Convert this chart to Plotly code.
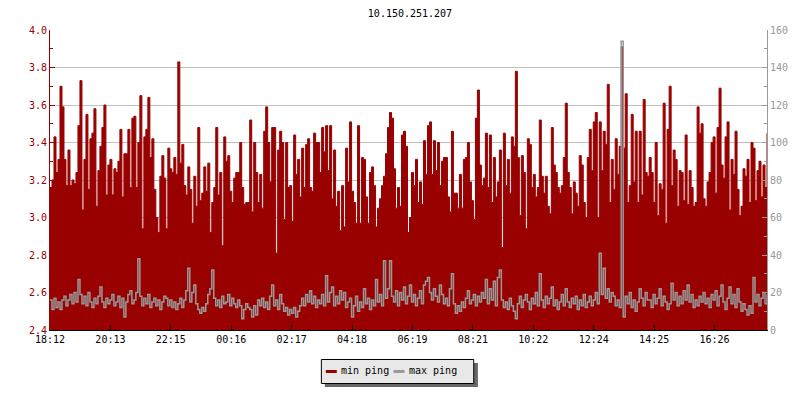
import plotly.graph_objects as go

TITLE = "10.150.251.207"
TICK_LABELS = ["18:12", "20:13", "22:15", "00:16", "02:17", "04:18",
               "06:19", "08:21", "10:22", "12:24", "14:25", "16:26"]
STEP_MIN = 4  # minutes between samples

min_ping = [
    3.16, 3.20, 3.43, 3.24, 3.31, 3.70, 3.59, 3.31, 3.17, 3.36,
    3.17, 3.20, 3.18, 3.24, 3.49, 3.73, 3.04, 3.31, 3.55, 3.15,
    3.42, 3.45, 3.58, 3.06, 3.25, 3.38, 3.48, 3.60, 3.12, 3.28,
    3.31, 3.12, 3.26, 3.24, 3.30, 3.47, 3.11, 3.34, 3.34, 3.47,
    3.16, 3.53, 3.54, 3.16, 3.40, 3.65, 2.94, 3.43, 3.47, 3.64,
    3.32, 3.42, 3.15, 3.00, 2.92, 3.22, 3.33, 3.21, 2.94, 3.37,
    3.26, 3.24, 3.32, 3.23, 3.83, 3.29, 3.39, 3.17, 3.12, 3.27,
    3.15, 2.97, 3.22, 3.06, 3.48, 3.09, 3.13, 3.27, 3.14, 3.29,
    2.92, 3.08, 3.16, 3.48, 3.12, 3.24, 2.85, 3.43, 3.30, 3.33,
    3.14, 3.08, 3.21, 3.24, 3.24, 3.40, 3.16, 3.07, 3.08, 3.08,
    3.52, 3.03, 3.40, 3.24, 3.08, 3.23, 3.05, 3.46, 3.59, 3.40,
    3.19, 3.48, 3.48, 2.81, 3.36, 3.46, 3.40, 2.99, 3.40, 3.16,
    3.17, 2.98, 3.44, 3.23, 3.31, 3.11, 3.37, 3.16, 3.39, 3.42,
    3.16, 3.14, 3.45, 3.40, 3.40, 3.24, 3.48, 3.35, 3.49, 3.25,
    3.49, 3.10, 3.36, 3.06, 3.14, 2.93, 3.17, 2.95, 3.37, 3.19,
    3.51, 3.14, 3.08, 2.97, 3.49, 2.97, 3.32, 3.31, 3.11, 2.97,
    3.24, 3.27, 3.17, 2.95, 3.05, 3.10, 3.17, 3.22, 3.34, 3.48,
    3.56, 3.53, 3.26, 3.05, 3.16, 3.06, 3.44, 3.46, 3.38, 2.92,
    3.00, 3.24, 3.17, 3.31, 3.08, 3.19, 3.07, 3.41, 3.23, 3.49,
    3.51, 3.23, 3.41, 3.25, 3.40, 3.17, 3.30, 3.32, 3.32, 3.11,
    3.03, 3.46, 3.13, 3.13, 3.05, 3.23, 3.05, 3.31, 3.32, 3.40,
    3.19, 3.09, 2.99, 3.53, 3.68, 3.28, 3.17, 3.21, 3.45, 3.16,
    3.44, 3.08, 3.32, 3.11, 3.19, 3.36, 2.84, 3.45, 3.17, 3.31,
    3.13, 3.43, 3.38, 3.78, 3.32, 3.01, 3.33, 3.24, 2.94, 3.42,
    3.39, 3.16, 3.23, 3.11, 3.16, 3.52, 3.22, 3.13, 3.22, 3.06,
    3.02, 3.48, 3.28, 3.24, 3.16, 3.13, 3.17, 3.32, 3.61, 3.24,
    3.16, 3.02, 3.19, 3.13, 3.06, 3.33, 3.28, 3.08, 3.00, 3.32,
    3.47, 3.25, 3.51, 3.56, 3.00, 3.51, 3.25, 3.46, 3.39, 3.71,
    3.08, 3.31, 3.15, 3.42, 3.23, 3.38, 3.91, 3.37, 3.66, 3.08,
    3.17, 3.55, 3.19, 3.46, 3.08, 3.46, 3.12, 3.63, 3.24, 3.22,
    3.32, 3.24, 3.08, 3.40, 3.01, 3.18, 3.15, 3.61, 2.97, 3.47,
    3.70, 3.17, 3.36, 3.31, 3.06, 3.25, 3.24, 3.09, 3.44, 3.07,
    3.25, 3.16, 3.06, 3.08, 3.59, 3.45, 3.50, 3.10, 3.06, 3.19,
    3.24, 3.40, 3.43, 3.13, 3.48, 3.69, 3.28, 3.21, 3.43, 3.51,
    3.04, 3.31, 3.23, 3.46, 3.15, 3.01, 3.06, 3.26, 3.22, 3.31,
    3.08, 3.40, 3.37, 3.09, 3.25, 3.30, 3.11, 3.28, 3.16, 3.45,
]

max_ping = [
    16, 11, 17, 12, 15, 11, 16, 18, 13, 16,
    19, 14, 20, 15, 27, 19, 14, 18, 13, 20,
    15, 12, 17, 14, 18, 23, 15, 12, 17, 14,
    16, 19, 13, 15, 18, 12, 17, 7, 15, 19,
    21, 14, 16, 20, 38, 18, 13, 17, 14, 19,
    12, 15, 17, 13, 16, 11, 15, 18, 17, 13,
    16, 12, 15, 11, 14, 17, 12, 16, 21, 33,
    15, 20, 24, 14, 11, 9, 12, 10, 14, 19,
    22, 32, 17, 13, 16, 12, 18, 14, 15, 19,
    13, 17, 14, 12, 16, 13, 6, 11, 14, 12,
    11, 7, 13, 8, 16, 13, 17, 12, 15, 11,
    18, 24, 13, 16, 11, 19, 14, 10, 12, 8,
    11, 9, 12, 7, 10, 13, 17, 13, 19, 15,
    21, 14, 18, 12, 16, 14, 19, 13, 29, 15,
    20, 23, 13, 18, 14, 21, 16, 20, 12, 15,
    17, 7, 13, 18, 10, 15, 12, 22, 14, 17,
    11, 16, 13, 27, 15, 19, 13, 37, 17, 22,
    37, 18, 15, 21, 13, 20, 16, 23, 14, 18,
    24, 15, 19, 13, 17, 21, 14, 24, 26, 28,
    20, 16, 22, 18, 15, 24, 19, 14, 17, 13,
    22, 30, 14, 9, 13, 10, 15, 12, 17, 21,
    14, 16, 19, 13, 18, 15, 20, 17, 27, 14,
    22, 16, 26, 13, 28, 32, 16, 12, 15, 11,
    17, 13, 10, 6, 14, 18, 12, 16, 19, 15,
    11, 17, 14, 20, 13, 30, 16, 12, 18, 14,
    17, 23, 13, 16, 11, 15, 19, 13, 22, 15,
    12, 17, 14, 18, 11, 16, 13, 19, 12, 15,
    18, 13, 16, 20, 14, 41, 19, 33, 17, 22,
    15, 20, 18, 13, 16, 12, 154, 7, 18, 14,
    20, 12, 16, 10, 15, 22, 17, 13, 20, 16,
    16, 12, 19, 14, 17, 22, 13, 18, 15, 11,
    14, 25, 16, 20, 13, 18, 14, 21, 16, 24,
    15, 19, 12, 16, 13, 18, 15, 20, 14, 17,
    12, 19, 16, 21, 13, 18, 24, 15, 11, 17,
    23, 14, 19, 12, 22, 15, 10, 14, 11, 8,
    13, 9, 28, 15, 19, 13, 17, 20, 14, 19,
]

RED = "#990000"
GREY = "#999999"
FONT = "DejaVu Sans Mono"

n = len(min_ping)
x = [i * STEP_MIN for i in range(n)]
x_end = (n - 1) * STEP_MIN
tick_step = 121.0
tickvals = [k * tick_step for k in range(len(TICK_LABELS))]

fig = go.Figure()
fig.add_trace(go.Scatter(
    x=x, y=min_ping, name="min ping", mode="lines",
    line=dict(color=RED, width=1, shape="hv"),
    fill="tozeroy", fillcolor=RED, yaxis="y",
))
fig.add_trace(go.Scatter(
    x=x, y=max_ping, name="max ping", mode="lines",
    line=dict(color=GREY, width=1.5, shape="hv"), yaxis="y2",
))

# plot area in pixels: x 50..770, y 30..330
L, R, T, B = 50, 770, 30, 330
W, H = R - L, B - T
def px(xp):
    return (xp - L) / W
def py(yp):
    return (B - yp) / H

shapes = [
    dict(type="rect", xref="paper", yref="paper",
         x0=px(326), x1=px(479.7), y0=py(387), y1=py(363),
         fillcolor="#666666", line=dict(width=0), layer="above"),
    dict(type="rect", xref="paper", yref="paper",
         x0=px(322.5), x1=px(475.5), y0=py(383.5), y1=py(359.5),
         fillcolor="#e8e8e8", line=dict(color="black", width=1), layer="above"),
    dict(type="line", xref="paper", yref="paper",
         x0=px(327), x1=px(338), y0=py(371.5), y1=py(371.5),
         line=dict(color=RED, width=3), layer="above"),
    dict(type="line", xref="paper", yref="paper",
         x0=px(395), x1=px(406), y0=py(371.5), y1=py(371.5),
         line=dict(color=GREY, width=3), layer="above"),
]
annotations = [
    dict(text="min ping", xref="paper", yref="paper", x=px(340.5), y=py(370.5),
         xanchor="left", yanchor="middle", showarrow=False,
         font=dict(family=FONT, size=10, color="black")),
    dict(text="max ping", xref="paper", yref="paper", x=px(408.5), y=py(370.5),
         xanchor="left", yanchor="middle", showarrow=False,
         font=dict(family=FONT, size=10, color="black")),
]

fig.update_layout(
    width=800, height=400,
    margin=dict(l=L, r=800 - R, t=T, b=400 - B, pad=0),
    paper_bgcolor="white", plot_bgcolor="white",
    showlegend=False,
    title=dict(text=TITLE, x=(L + R) / 2 / 800, xanchor="center",
               y=1 - 13 / 400, yanchor="middle",
               font=dict(family=FONT, size=10, color="black")),
    font=dict(family=FONT, size=10),
    xaxis=dict(
        range=[0, x_end], tickvals=tickvals, ticktext=TICK_LABELS,
        showgrid=False, zeroline=False, showline=True, linecolor="black",
        linewidth=1, ticks="inside", ticklen=5, tickcolor="black",
        tickfont=dict(family=FONT, size=10, color="black"),
    ),
    yaxis=dict(
        range=[2.4, 4.0], dtick=0.2, tick0=2.4, tickformat=".1f",
        showgrid=True, gridcolor="#c0c0c0", gridwidth=1, zeroline=False,
        showline=True, linecolor=RED, linewidth=1,
        ticks="inside", ticklen=5, tickcolor=RED,
        minor=dict(dtick=0.1, ticks="inside", ticklen=3, tickcolor=RED, showgrid=False),
        tickfont=dict(family=FONT, size=10, color=RED),
    ),
    yaxis2=dict(
        range=[0, 160], dtick=20, overlaying="y", side="right",
        showgrid=False, zeroline=False, showline=True, linecolor=GREY,
        linewidth=1, ticks="inside", ticklen=5, tickcolor=GREY,
        minor=dict(dtick=10, ticks="inside", ticklen=3, tickcolor=GREY, showgrid=False),
        tickfont=dict(family=FONT, size=10, color=GREY),
    ),
    shapes=shapes, annotations=annotations,
)

fig.write_html("out.html", config={"displayModeBar": False},
               post_script="document.body.style.margin='0px';")
